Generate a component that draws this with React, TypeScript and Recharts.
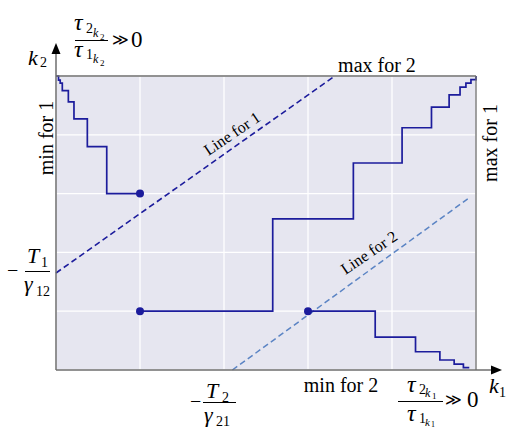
import { CartesianGrid, ComposedChart, Line, Scatter, XAxis, YAxis } from "recharts"

// staircase for "min for 1" (stepAfter corners)
const minFor1X = [0, 0.03, 0.05, 0.075, 0.147, 0.214, 0.373, 0.604, 1]
const minFor1Y = [5, 4.93, 4.88, 4.75, 4.56, 4.27, 3.8, 3.0, 3.0]

// rising staircase in the middle
const middleX = [1, 2.58, 3.54, 4.12, 4.47, 4.68, 4.81, 4.88, 4.94, 5]
const middleY = [1, 2.57, 3.52, 4.12, 4.47, 4.68, 4.81, 4.88, 4.94, 5]

// staircase for "min for 2"
const minFor2X = [3, 3.8, 4.28, 4.57, 4.74, 4.85, 4.92]
const minFor2Y = [1, 0.56, 0.31, 0.17, 0.1, 0.04, 0.04]

// dashed lines
const line1X = [0, 3.32]
const line1Y = [1.65, 5]
const line2X = [2.1, 4.93]
const line2Y = [0, 2.94]

// start dots
const dotX = [1, 1, 3]
const dotY = [3, 1, 1]

const gridTicks = [0, 1, 2, 3, 4, 5]

const toPoints = (xs: number[], ys: number[]) => xs.map((x, i) => ({ x, y: ys[i] }))

const W = 507
const H = 431
const NAVY = "#1c1c9c"
const LIGHT = "#5b84c4"
const FRAME = "#6e6e6e"
const SERIF = "Liberation Serif, DejaVu Serif, serif"

export default function App() {
  const it = { fontStyle: "italic" as const }
  return (
    <div style={{ position: "absolute", left: 0, top: 0, width: W, height: H, background: "#fff" }}>
      <ComposedChart width={W} height={H} margin={{ top: 76, right: 31, bottom: 61, left: 56 }}>
        <CartesianGrid fill="#e6e6f0" stroke="#ffffff" strokeWidth={1.3} />
        <XAxis type="number" dataKey="x" domain={[0, 5]} ticks={gridTicks} hide />
        <YAxis type="number" dataKey="y" domain={[0, 5]} ticks={gridTicks} hide />
        <Line data={toPoints(line1X, line1Y)} dataKey="y" type="linear" stroke={NAVY} strokeWidth={1.6}
          strokeDasharray="6 3.5" dot={false} activeDot={false} isAnimationActive={false} />
        <Line data={toPoints(line2X, line2Y)} dataKey="y" type="linear" stroke={LIGHT} strokeWidth={1.5}
          strokeDasharray="6 3.5" dot={false} activeDot={false} isAnimationActive={false} />
        <Line data={toPoints(minFor1X, minFor1Y)} dataKey="y" type="stepAfter" stroke={NAVY} strokeWidth={1.7}
          dot={false} activeDot={false} isAnimationActive={false} />
        <Line data={toPoints(middleX, middleY)} dataKey="y" type="stepAfter" stroke={NAVY} strokeWidth={1.7}
          dot={false} activeDot={false} isAnimationActive={false} />
        <Line data={toPoints(minFor2X, minFor2Y)} dataKey="y" type="stepAfter" stroke={NAVY} strokeWidth={1.7}
          dot={false} activeDot={false} isAnimationActive={false} />
        <Scatter data={toPoints(dotX, dotY)} fill={NAVY} isAnimationActive={false}
          shape={(p: any) => <circle cx={p.cx} cy={p.cy} r={4} fill={NAVY} />} />
      </ComposedChart>

      <svg width={W} height={H} style={{ position: "absolute", left: 0, top: 0 }}>
        {/* frame and axes */}
        <line x1={56} y1={76} x2={476} y2={76} stroke={FRAME} strokeWidth={1.3} />
        <line x1={476} y1={76} x2={476} y2={370} stroke={FRAME} strokeWidth={1.3} />
        <line x1={56} y1={370} x2={56} y2={53} stroke={FRAME} strokeWidth={1.5} />
        <line x1={56} y1={370} x2={492} y2={370} stroke={FRAME} strokeWidth={1.5} />
        <polygon points="56,43 51.5,54 60.5,54" fill="#000" />
        <polygon points="502,370 491,365.5 491,374.5" fill="#000" />

        <g fontFamily={SERIF} fill="#000">
          {/* plain labels */}
          <text x={377} y={72} fontSize={20} textAnchor="middle">max for 2</text>
          <text x={341} y={392} fontSize={20} textAnchor="middle">min for 2</text>
          <text transform="translate(53,138) rotate(-90)" fontSize={20} textAnchor="middle">min for 1</text>
          <text transform="translate(497,143) rotate(-90)" fontSize={20} textAnchor="middle">max for 1</text>
          <text transform="translate(235,138) rotate(-34)" fontSize={16} textAnchor="middle">Line for 1</text>
          <text transform="translate(372,257) rotate(-34)" fontSize={16} textAnchor="middle">Line for 2</text>

          {/* k2 axis label */}
          <text x={28} y={65} fontSize={22} {...it}>k</text>
          <text x={40} y={67} fontSize={14}>2</text>

          {/* k1 axis label */}
          <text x={489} y={393} fontSize={22} {...it}>k</text>
          <text x={499} y={397} fontSize={14}>1</text>

          {/* top fraction */}
          <text x={74} y={30} fontSize={24} {...it}>τ</text>
          <text x={86} y={33} fontSize={14}>2</text>
          <text x={93} y={37} fontSize={12} {...it}>k</text>
          <text x={100} y={40} fontSize={9}>2</text>
          <line x1={75} y1={40.5} x2={108} y2={40.5} stroke="#000" strokeWidth={1} />
          <text x={74} y={56.5} fontSize={24} {...it}>τ</text>
          <text x={86} y={59} fontSize={14}>1</text>
          <text x={93} y={63} fontSize={12} {...it}>k</text>
          <text x={100} y={66} fontSize={9}>2</text>
          <text x={112} y={45} fontSize={16}>≫</text>
          <text x={131} y={47} fontSize={23}>0</text>

          {/* bottom-right fraction */}
          <text x={407} y={392} fontSize={24} {...it}>τ</text>
          <text x={419} y={394} fontSize={14}>2</text>
          <text x={425} y={397} fontSize={12} {...it}>k</text>
          <text x={432} y={399} fontSize={9}>1</text>
          <line x1={398} y1={401.5} x2={443} y2={401.5} stroke="#000" strokeWidth={1} />
          <text x={407} y={421} fontSize={24} {...it}>τ</text>
          <text x={419} y={423} fontSize={14}>1</text>
          <text x={425} y={426} fontSize={11} {...it}>k</text>
          <text x={431} y={427} fontSize={8}>1</text>
          <text x={445} y={405} fontSize={16}>≫</text>
          <text x={467} y={407} fontSize={23}>0</text>

          {/* -T2 / gamma21 */}
          <text x={190} y={408} fontSize={20}>−</text>
          <text x={206} y={398} fontSize={22} {...it}>T</text>
          <text x={222} y={402} fontSize={14}>2</text>
          <line x1={203} y1={402.5} x2={236} y2={402.5} stroke="#000" strokeWidth={1} />
          <text x={204} y={422} fontSize={22} {...it}>γ</text>
          <text x={216} y={426} fontSize={14}>21</text>

          {/* -T1 / gamma12 */}
          <text x={7} y={277} fontSize={20}>−</text>
          <text x={27} y={263} fontSize={22} {...it}>T</text>
          <text x={41} y={267} fontSize={14}>1</text>
          <line x1={25} y1={271.5} x2={50} y2={271.5} stroke="#000" strokeWidth={1} />
          <text x={24} y={291} fontSize={22} {...it}>γ</text>
          <text x={36} y={296} fontSize={14}>12</text>
        </g>
      </svg>
    </div>
  )
}
